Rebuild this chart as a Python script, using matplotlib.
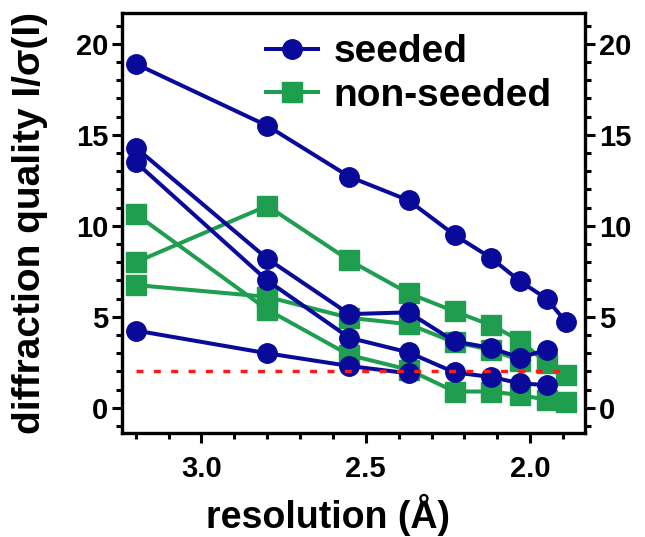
import matplotlib
matplotlib.use('Agg')
import matplotlib.pyplot as plt
from matplotlib.ticker import MultipleLocator

plt.rcParams['font.family'] = ['Liberation Sans', 'DejaVu Sans']
plt.rcParams['font.weight'] = 'bold'
plt.rcParams['axes.labelweight'] = 'bold'

# resolution shells (Å)
res = [3.2, 2.8, 2.55, 2.37, 2.23, 2.12, 2.03, 1.95, 1.89]

# seeded crystals
seeded_1 = [18.9, 15.5, 12.7, 11.4, 9.5, 8.25, 6.95, 6.0, 4.7]
seeded_2 = [14.3, 8.2, 5.15, 5.25, 3.65, 3.3, 2.75, 3.2]
seeded_3 = [13.5, 7.0, 3.85, 3.05, 1.95, 1.7, 1.35, 1.25]
seeded_4 = [4.25, 3.0, 2.3, 1.9]

# non-seeded crystals
nonseeded_1 = [10.65, 5.4, 2.9, 2.1, 0.9, 0.9, 0.7, 0.45, 0.35]
nonseeded_2 = [8.0, 11.1, 8.1, 6.3, 5.3, 4.55, 3.7, 2.45, 1.8]
nonseeded_3 = [6.75, 6.1, 4.95, 4.6, 3.6, 3.2, 2.6]

cutoff = 2.0

blue = '#0a0a9a'
green = '#1f9e50'

fig = plt.figure(figsize=(6.45, 5.37), dpi=100)
ax = fig.add_axes([0.189, 0.194, 0.718, 0.782])

lw = 2.9
ms = 14
for ys in [nonseeded_1, nonseeded_2, nonseeded_3]:
    ax.plot(res[:len(ys)], ys, color=green, lw=lw, marker='s', ms=ms)
for ys in [seeded_1, seeded_2, seeded_3, seeded_4]:
    ax.plot(res[:len(ys)], ys, color=blue, lw=lw, marker='o', ms=ms)

ax.plot([res[0], res[-1]], [cutoff, cutoff], color='#ff1a1a', lw=2.5,
        ls=(0, (2, 3)), zorder=5)

# legend proxies
h1, = ax.plot([], [], color=blue, lw=lw, marker='o', ms=ms, label='seeded')
h2, = ax.plot([], [], color=green, lw=lw, marker='s', ms=ms, label='non-seeded')
ax.legend(handles=[h1, h2], loc='upper left', bbox_to_anchor=(0.26, 1.005),
          frameon=False, fontsize=28, handlelength=1.35, handletextpad=0.4,
          labelspacing=0.2, borderaxespad=0.2)

ax.set_xlim(3.242, 1.833)
ax.set_ylim(-1.37, 21.7)
ax.xaxis.set_major_locator(MultipleLocator(0.5))
ax.xaxis.set_minor_locator(MultipleLocator(0.1))
ax.yaxis.set_major_locator(MultipleLocator(5))
ax.yaxis.set_minor_locator(MultipleLocator(1))
ax.set_xticks([3.0, 2.5, 2.0])
ax.set_xticklabels(['3.0', '2.5', '2.0'])

for s in ax.spines.values():
    s.set_linewidth(2.4)
ax.tick_params(which='both', direction='out', width=2.2, labelsize=21,
               right=True, labelright=True, top=False)
ax.tick_params(which='major', length=7, pad=3)
ax.tick_params(which='minor', length=4.5)
ax.tick_params(axis='x', which='major', pad=9)

ax.set_xlabel('resolution (Å)', fontsize=27)
ax.set_ylabel('diffraction quality I/σ(I)', fontsize=28)
ax.xaxis.set_label_coords(0.445, -0.145)
ax.yaxis.set_label_coords(-0.16, 0.5)

fig.savefig('out.png', dpi=100)
